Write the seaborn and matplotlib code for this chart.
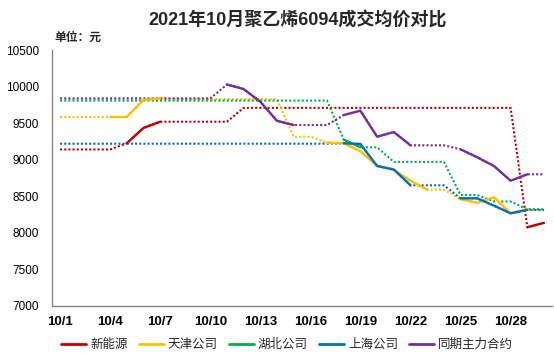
import numpy as np
import pandas as pd
import matplotlib
matplotlib.use("Agg")
import matplotlib.pyplot as plt
from matplotlib.lines import Line2D
import seaborn as sns

# ---------------- data ----------------
dates = ["10/1", "10/2", "10/3", "10/4", "10/5", "10/6", "10/7", "10/8", "10/9", "10/10",
         "10/11", "10/12", "10/13", "10/14", "10/15", "10/16", "10/17", "10/18", "10/19", "10/20",
         "10/21", "10/22", "10/23", "10/24", "10/25", "10/26", "10/27", "10/28", "10/29", "10/30"]

series_names = ["新能源", "天津公司", "湖北公司", "上海公司", "同期主力合约"]
series_colors = ["#C00000", "#FFC000", "#00B050", "#0070C0", "#7030A0"]

N = None
# actual quotes (solid lines); None = no quote that day
xinnengyuan = [N, N, N, N, 9225, 9435, 9520, N, N, N,
               N, N, N, N, N, N, N, N, N, N,
               N, N, N, N, N, N, N, N, 8075, 8135]
tianjin = [N, N, N, 9585, 9585, 9820, 9840, N, N, N,
           N, N, N, N, N, N, 9233, 9225, 9115, 8914,
           8860, 8712, 8590, N, 8458, 8411, 8485, 8266, 8321, N]
hubei = [N, N, N, N, N, N, N, N, N, N,
         N, N, N, N, N, N, N, 9275, 9170, N,
         N, N, N, N, N, N, N, N, N, N]
shanghai = [N, N, N, N, N, N, N, N, N, N,
            N, N, N, N, N, N, N, 9225, 9215, 8914,
            8866, 8649, N, N, 8471, 8471, 8370, 8266, 8311, N]
qihuo = [N, N, N, N, N, N, N, N, N, N,
         10030, 9968, 9795, 9532, 9475, N, N, 9612, 9671, 9315,
         9379, 9197, N, N, 9142, 9033, 8914, 8712, 8800, N]

# carried-over reference values (dotted lines)
xinnengyuan_ref = [9140, 9140, 9140, 9140, 9225, 9435, 9520, 9520, 9520, 9520,
                   9520, 9710, 9710, 9710, 9710, 9710, 9710, 9710, 9710, 9710,
                   9710, 9710, 9710, 9710, 9710, 9710, 9710, 9710, 8075, 8135]
tianjin_ref = [9585, 9585, 9585, 9585, 9585, 9820, 9840, 9830, 9830, 9830,
               9830, 9830, 9830, 9830, 9315, 9315, 9233, 9225, 9115, 8914,
               8860, 8712, 8590, 8590, 8458, 8411, 8485, 8266, 8321, 8321]
hubei_ref = [9810, 9810, 9810, 9810, 9810, 9810, 9810, 9810, 9810, 9810,
             9810, 9810, 9810, 9810, 9810, 9810, 9810, 9275, 9170, 9170,
             8970, 8970, 8970, 8970, 8516, 8516, 8428, 8428, 8321, 8321]
shanghai_ref = [9219, 9219, 9219, 9219, 9219, 9219, 9219, 9219, 9219, 9219,
                9219, 9219, 9219, 9219, 9219, 9219, 9219, 9225, 9215, 8914,
                8866, 8649, 8649, 8649, 8471, 8471, 8370, 8266, 8311, 8311]
qihuo_ref = [9840, 9840, 9840, 9840, 9840, 9840, 9840, 9840, 9840, 9840,
             10030, 9968, 9795, 9532, 9475, 9475, 9475, 9612, 9671, 9315,
             9379, 9197, 9197, 9197, 9142, 9033, 8914, 8712, 8800, 8800]

actual_list = [xinnengyuan, tianjin, hubei, shanghai, qihuo]
ref_list = [xinnengyuan_ref, tianjin_ref, hubei_ref, shanghai_ref, qihuo_ref]

y_ticks = [7000, 7500, 8000, 8500, 9000, 9500, 10000, 10500]
title = "2021年10月聚乙烯6094成交均价对比"
unit_text = "单位：元"

# ---------------- style ----------------
sns.set_style("white")
plt.rcParams["font.family"] = ["Liberation Sans", "Noto Sans CJK SC"]
plt.rcParams["axes.unicode_minus"] = False
gray = "#868686"

fig = plt.figure(figsize=(5.54, 3.57), dpi=100)
ax = fig.add_axes([0.0933, 0.1437, 0.9037, 0.7157])

x = np.arange(len(dates))

# dotted reference lines first
for ref, col in zip(ref_list, series_colors):
    sns.lineplot(x=x, y=ref, color=col, lw=1.5, linestyle=(0, (1, 1)),
                 estimator=None, ax=ax, legend=False)

# solid actual lines on top
for act, col in zip(actual_list, series_colors):
    df = pd.DataFrame({"x": x, "y": pd.array(act, dtype="Float64").astype(float)})
    df["run"] = df["y"].isna().cumsum()
    df = df.dropna()
    sns.lineplot(data=df, x="x", y="y", units="run", estimator=None,
                 color=col, lw=1.7, ax=ax, legend=False)

ax.set_xlim(-0.5, len(dates) - 0.5)
ax.set_ylim(7000, 10500)
ax.set_yticks(y_ticks)
ax.set_yticklabels([str(v) for v in y_ticks])
ax.set_xlabel("")
ax.set_ylabel("")

# tick marks at category boundaries, labels centred on categories
ax.set_xticks(np.arange(-0.5, len(dates), 3))
ax.set_xticklabels([])
ax.set_xticks(x[::3], minor=True)
ax.set_xticklabels(dates[::3], minor=True, fontweight="bold")

ax.tick_params(axis="x", which="major", length=4.3, width=1, color=gray, direction="out")
ax.tick_params(axis="x", which="minor", length=0, pad=7.5, labelsize=9.5, labelcolor="black")
ax.tick_params(axis="y", which="major", length=5, width=1, color=gray, direction="out",
               pad=4, labelsize=8.5, labelcolor="black")

for s in ["top", "right"]:
    ax.spines[s].set_visible(False)
for s in ["left", "bottom"]:
    ax.spines[s].set_color(gray)
    ax.spines[s].set_linewidth(1)
ax.grid(False)

fig.text(0.538, 0.945, title, ha="center", va="center", fontsize=13, fontweight="bold")
fig.text(54 / 554, 1 - 38 / 357, unit_text, ha="left", va="center", fontsize=8.5,
         fontweight="bold")

handles = [Line2D([], [], color=c, lw=2) for c in series_colors]
fig.legend(handles, series_names, loc="center", bbox_to_anchor=(287 / 554, 1 - 345 / 357),
           ncol=5, frameon=False, fontsize=9, handlelength=2.0, handletextpad=0.35,
           columnspacing=0.85)

fig.savefig("out.png", dpi=100)
